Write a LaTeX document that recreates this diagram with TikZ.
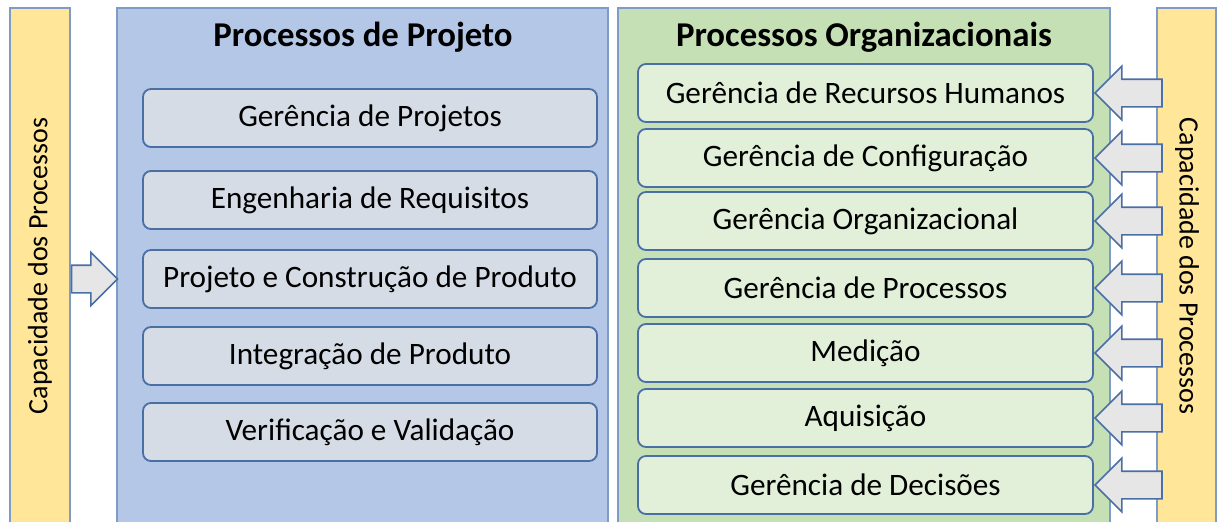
\documentclass[tikz,border=0pt]{standalone}
\usepackage{fontspec}
\setmainfont{Carlito}
\usetikzlibrary{shapes.arrows}

\definecolor{capyellow}{HTML}{FFE699}
\definecolor{projpanel}{HTML}{B4C7E7}
\definecolor{projfill}{HTML}{D6DCE5}
\definecolor{orgpanel}{HTML}{C5E0B4}
\definecolor{orgfill}{HTML}{E2F0D9}
\definecolor{arrowfill}{HTML}{E7E6E6}
\definecolor{panelline}{HTML}{7F9BC8}
\definecolor{boxline}{HTML}{4A6FA5}

\tikzset{
  capbar/.style={draw=panelline,fill=capyellow,line width=0.8pt,minimum width=30pt,minimum height=261pt,inner sep=0pt},
  panel/.style={draw=panelline,line width=0.8pt,minimum height=261pt,inner sep=0pt},
  title/.style={font=\fontsize{17.4}{20}\selectfont\bfseries},
  procbox/.style={draw=boxline,rounded corners=4pt,line width=0.9pt,minimum height=29pt,inner sep=0pt,font=\fontsize{15.6}{18}\selectfont},
  projbox/.style={procbox,fill=projfill,minimum width=227pt},
  orgbox/.style={procbox,fill=orgfill,minimum width=227.5pt},
  fatarrow/.style={single arrow,draw=boxline,fill=arrowfill,line width=0.8pt,inner sep=6.5pt,single arrow head extend=6.5pt,minimum width=1pt}
}

\begin{document}
\begin{tikzpicture}[x=0.5pt,y=-0.5pt]
  \clip (0,0) rectangle (1220,521);
  % capacidade dos processos
  \node[capbar] (lbar) at (40,269) {};
  \node[capbar,minimum width=29.5pt] (rbar) at (1186.5,269) {};
  \node[rotate=90,font=\fontsize{14}{16}\selectfont] (ltext) at (40,266) {Capacidade dos Processos};
  \node[rotate=-90,font=\fontsize{14}{16}\selectfont] (rtext) at (1187,266) {Capacidade dos Processos};
  % paineis
  \node[panel,fill=projpanel,minimum width=245.5pt] (proj) at (362.5,269) {};
  \node[panel,fill=orgpanel,minimum width=246pt] (org) at (864,269) {};
  \node[title] (projtitle) at (363,37) {Processos de Projeto};
  \node[title] (orgtitle) at (864,37) {Processos Organizacionais};
  % processos de projeto
  \node[projbox] (pp1) at (370,118) {Gerência de Projetos};
  \node[projbox] (pp2) at (370,200) {Engenharia de Requisitos};
  \node[projbox] (pp3) at (370,279) {Projeto e Construção de Produto};
  \node[projbox] (pp4) at (370,356) {Integração de Produto};
  \node[projbox] (pp5) at (370,432) {Verificação e Validação};
  % processos organizacionais
  \node[orgbox] (op1) at (865.5,93) {Gerência de Recursos Humanos};
  \node[orgbox] (op2) at (865.5,158) {Gerência de Configuração};
  \node[orgbox] (op3) at (865.5,221) {Gerência Organizacional};
  \node[orgbox] (op4) at (865.5,288) {Gerência de Processos};
  \node[orgbox] (op5) at (865.5,353) {Medição};
  \node[orgbox] (op6) at (865.5,418) {Aquisição};
  \node[orgbox] (op7) at (865.5,485) {Gerência de Decisões};
  % setas
  \node[fatarrow,minimum height=23pt,anchor=tail] (la) at (lbar.east |- pp3.west) {};
  \node[fatarrow,shape border rotate=180,minimum height=33.5pt,anchor=tip] (ra1) at (op1.east) {};
  \node[fatarrow,shape border rotate=180,minimum height=33.5pt,anchor=tip] (ra2) at (op2.east) {};
  \node[fatarrow,shape border rotate=180,minimum height=33.5pt,anchor=tip] (ra3) at (op3.east) {};
  \node[fatarrow,shape border rotate=180,minimum height=33.5pt,anchor=tip] (ra4) at (op4.east) {};
  \node[fatarrow,shape border rotate=180,minimum height=33.5pt,anchor=tip] (ra5) at (op5.east) {};
  \node[fatarrow,shape border rotate=180,minimum height=33.5pt,anchor=tip] (ra6) at (op6.east) {};
  \node[fatarrow,shape border rotate=180,minimum height=33.5pt,anchor=tip] (ra7) at (op7.east) {};
\end{tikzpicture}
\end{document}
